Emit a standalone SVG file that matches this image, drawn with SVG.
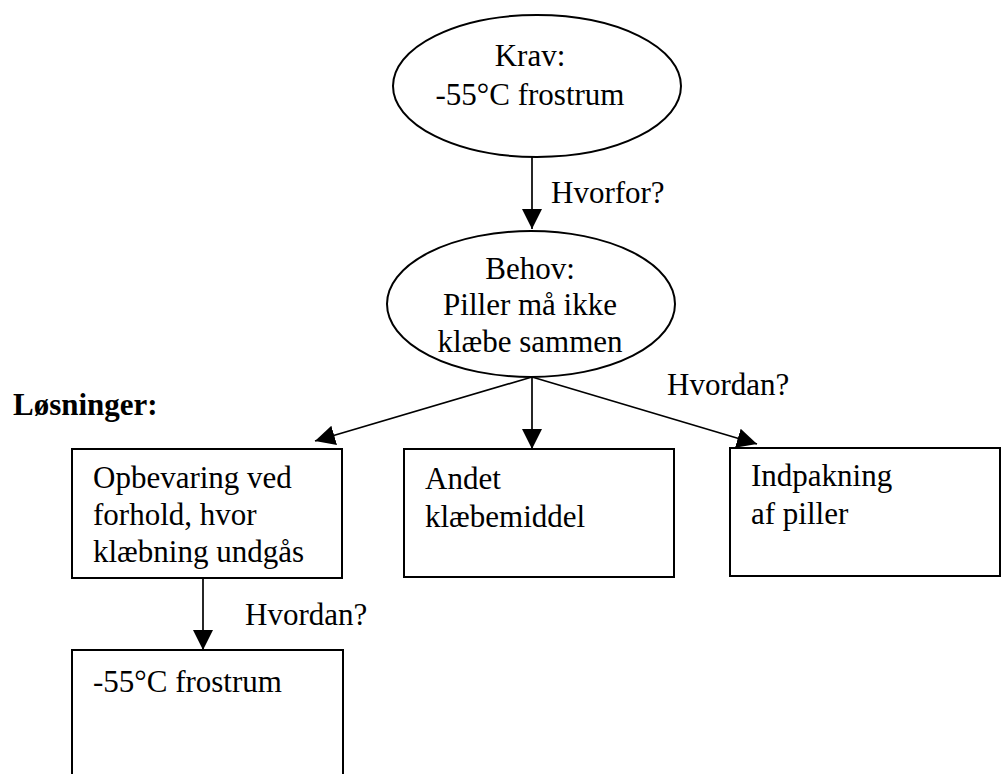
<svg xmlns="http://www.w3.org/2000/svg" width="1001" height="774" viewBox="0 0 1001 774">
<style>
.t{font-family:"Liberation Serif","Times New Roman",serif;font-size:31px;fill:#000}
.c{text-anchor:middle}
.b{font-weight:bold}
.shape{fill:#fff;stroke:#000;stroke-width:2}
.edge{stroke:#000;stroke-width:1.7;fill:none}
</style>
<defs>
<marker id="ah" viewBox="0 0 20 20" refX="20" refY="10" markerWidth="20" markerHeight="20" markerUnits="userSpaceOnUse" orient="auto">
<path d="M0,0 L20,10 L0,20 Z" fill="#000"/>
</marker>
</defs>
<rect width="1001" height="774" fill="#fff"/>
<g id="connectors">
<line class="edge" x1="532" y1="157" x2="532" y2="229" marker-end="url(#ah)"/>
<line class="edge" x1="532" y1="377" x2="315" y2="441" marker-end="url(#ah)"/>
<line class="edge" x1="532" y1="377" x2="532" y2="449" marker-end="url(#ah)"/>
<line class="edge" x1="532" y1="377" x2="757" y2="444" marker-end="url(#ah)"/>
<line class="edge" x1="203" y1="578" x2="203" y2="650" marker-end="url(#ah)"/>
<text class="t" x="551" y="203">Hvorfor?</text>
<text class="t" x="667" y="395">Hvordan?</text>
<text class="t" x="245" y="625">Hvordan?</text>
</g>
<g id="krav">
<ellipse class="shape" cx="537" cy="86" rx="144" ry="71"/>
<text class="t c" x="530" y="66">Krav:</text>
<text class="t c" x="530" y="105">-55°C frostrum</text>
</g>
<g id="behov">
<ellipse class="shape" cx="531" cy="304" rx="144" ry="73"/>
<text class="t c" x="530" y="279">Behov:</text>
<text class="t c" x="530" y="315">Piller må ikke</text>
<text class="t c" x="530" y="352">klæbe sammen</text>
</g>
<g id="losninger">
<text class="t b" x="13" y="415">Løsninger:</text>
</g>
<g id="opbevaring">
<rect class="shape" x="72" y="449" width="270" height="129"/>
<text class="t" x="93" y="488">Opbevaring ved</text>
<text class="t" x="93" y="525">forhold, hvor</text>
<text class="t" x="93" y="562">klæbning undgås</text>
</g>
<g id="andet">
<rect class="shape" x="404" y="449" width="270" height="128"/>
<text class="t" x="425" y="489">Andet</text>
<text class="t" x="425" y="527">klæbemiddel</text>
</g>
<g id="indpakning">
<rect class="shape" x="730" y="448" width="270" height="128"/>
<text class="t" x="751" y="486">Indpakning</text>
<text class="t" x="751" y="524">af piller</text>
</g>
<g id="frostrum">
<rect class="shape" x="72" y="650" width="271" height="140"/>
<text class="t" x="93" y="692">-55°C frostrum</text>
</g>
</svg>
